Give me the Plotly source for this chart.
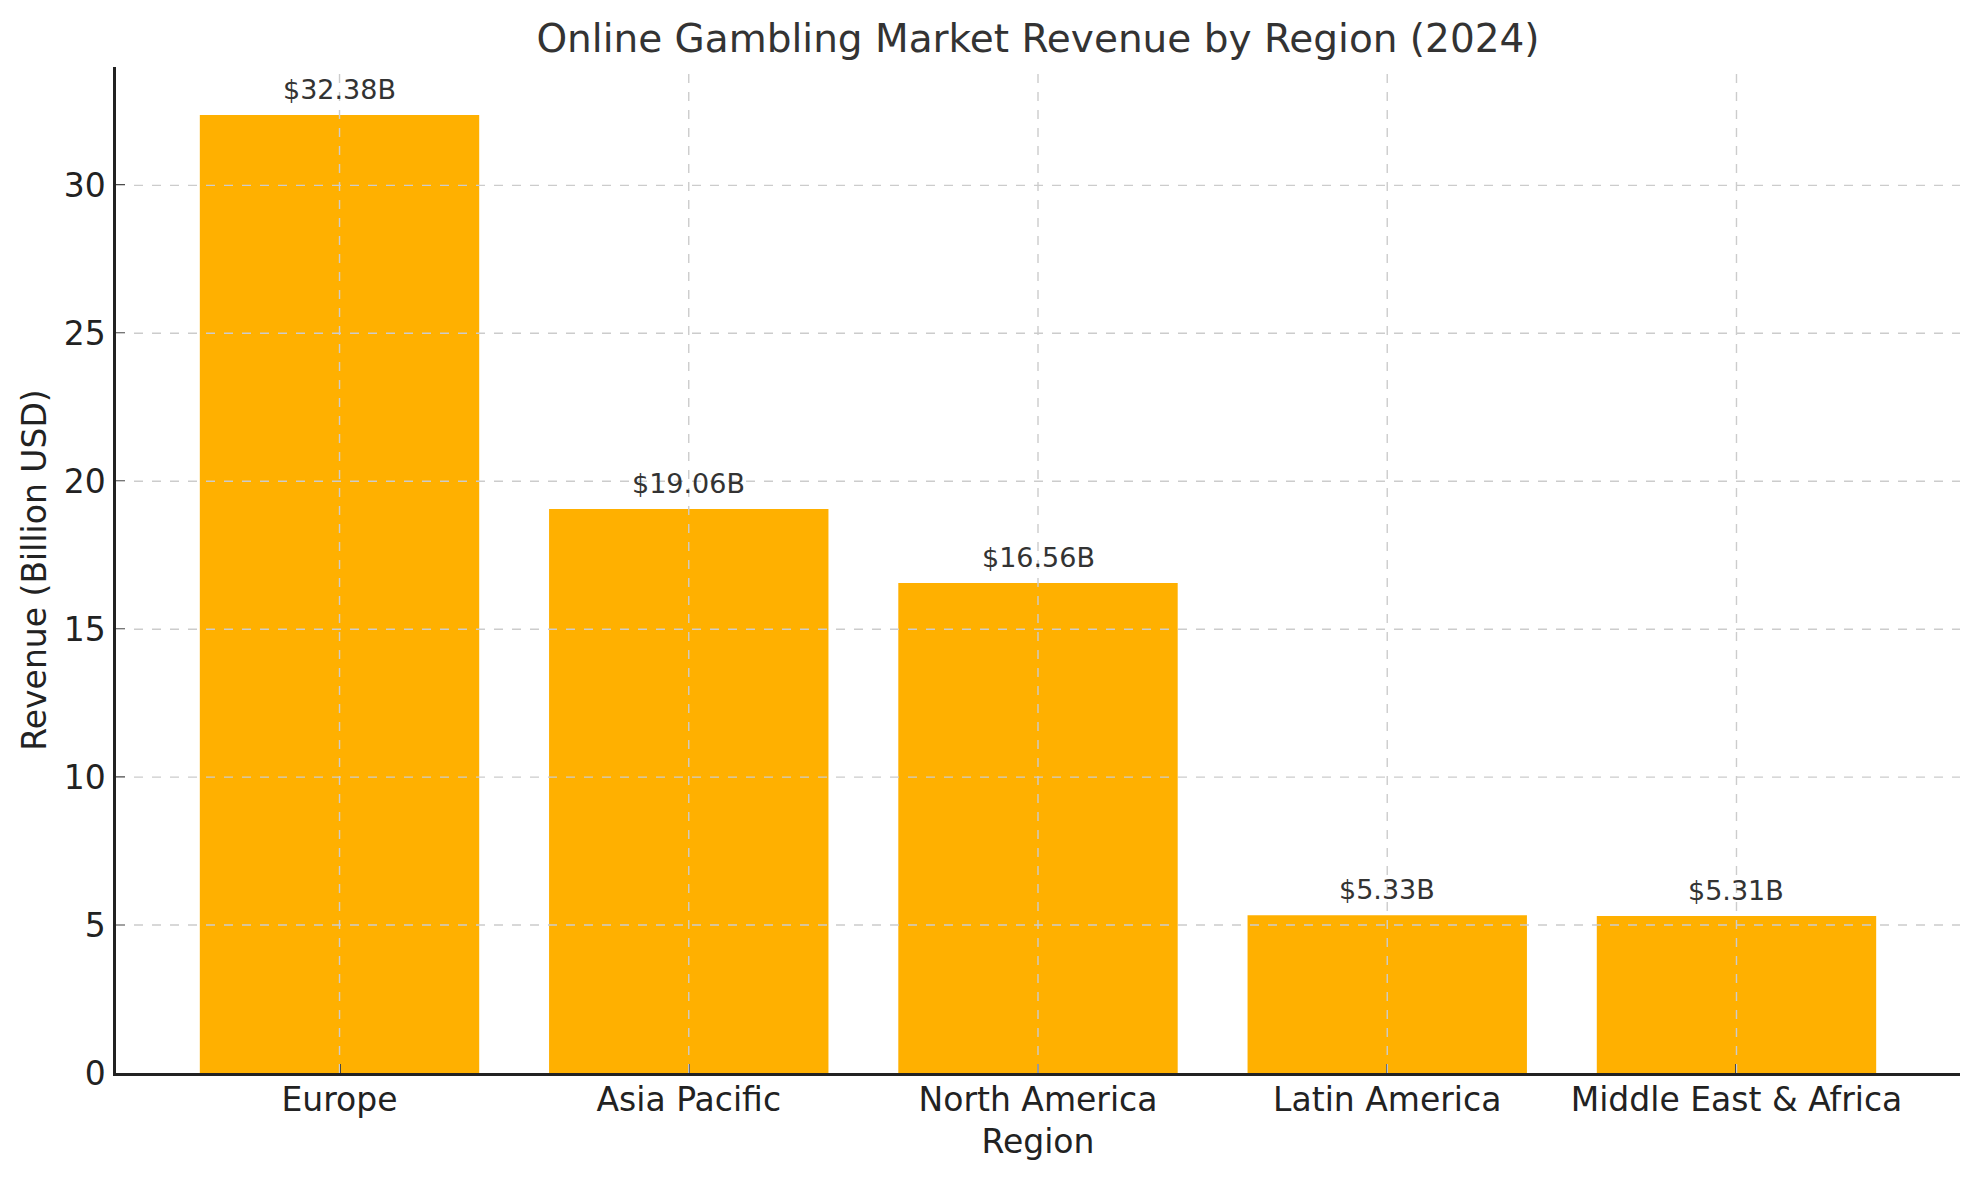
import plotly.graph_objects as go

regions = ["Europe", "Asia Pacific", "North America", "Latin America", "Middle East & Africa"]
revenue = [32.38, 19.06, 16.56, 5.33, 5.31]
y_ticks = [0, 5, 10, 15, 20, 25, 30]

BAR_COLOR = "#FFB000"
GRID_COLOR = "#cccccc"
FONT = "DejaVu Sans"

fig = go.Figure()
fig.add_trace(go.Bar(x=regions, y=revenue, width=0.8, marker=dict(color=BAR_COLOR, line=dict(width=0))))

# value labels above each bar
for r, v in zip(regions, revenue):
    fig.add_annotation(x=r, y=v, text=f"${v:.2f}B", showarrow=False, yanchor="bottom",
                       yshift=8, font=dict(family=FONT, size=27, color="#333333"))

# matplotlib draws the grid over the bars, so use shapes on top
for t in y_ticks[1:]:
    fig.add_shape(type="line", xref="paper", yref="y", x0=0, x1=1, y0=t, y1=t,
                  line=dict(color=GRID_COLOR, width=1.4, dash="dash"), layer="above")
for r in regions:
    fig.add_shape(type="line", xref="x", yref="paper", x0=r, x1=r, y0=0, y1=1,
                  line=dict(color=GRID_COLOR, width=1.4, dash="dash"), layer="above")

# page body has an 8px margin, so pull the plot area back by that much
fig.update_layout(
    width=1979, height=1180,
    margin=dict(l=108, r=27, t=59, b=115),
    plot_bgcolor="white", paper_bgcolor="white",
    showlegend=False,
    font=dict(family=FONT, color="#222222"),
    title=dict(text="Online Gambling Market Revenue by Region (2024)", x=0.5, xref="paper",
               xanchor="center", y=1 - 30 / 1180, yanchor="middle",
               font=dict(family=FONT, size=39, color="#333333")),
)
fig.update_xaxes(
    range=[-0.64, 4.64], showgrid=False, zeroline=False,
    showline=True, linecolor="#222222", linewidth=2.5,
    ticks="inside", ticklen=9, tickwidth=2, tickcolor="#222222",
    ticklabelstandoff=-4,
    tickfont=dict(family=FONT, size=33, color="#222222"),
    title=dict(text="Region", font=dict(family=FONT, size=33, color="#222222"), standoff=12),
)
fig.update_yaxes(
    range=[0, 34.0], tickvals=y_ticks, showgrid=False, zeroline=False,
    showline=True, linecolor="#222222", linewidth=2.5,
    ticks="inside", ticklen=9, tickwidth=2, tickcolor="#222222",
    ticklabelstandoff=1,
    tickfont=dict(family=FONT, size=33, color="#222222"),
    title=dict(text="Revenue (Billion USD)", font=dict(family=FONT, size=33, color="#222222"), standoff=8),
)

fig.write_html("out.html")
